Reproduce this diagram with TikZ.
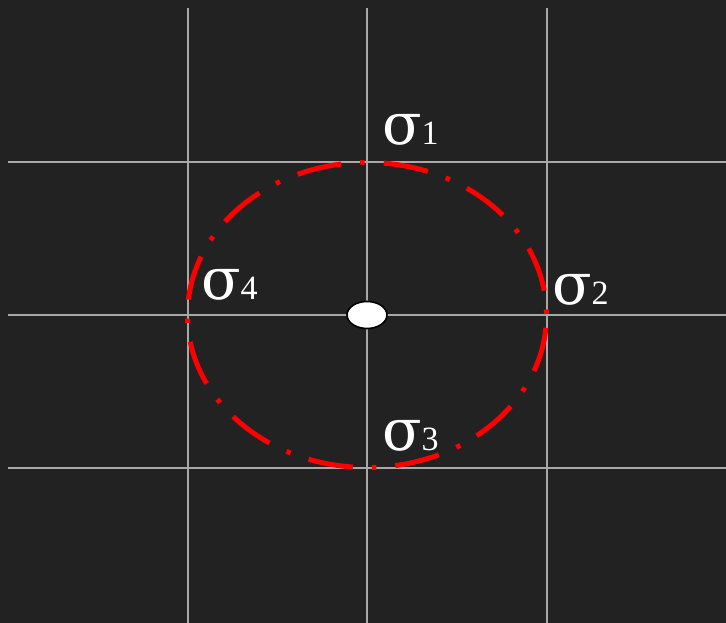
\documentclass[tikz,border=0pt]{standalone}
\usepackage{fontspec}
\newfontfamily\lblfont{Liberation Serif}
\newfontfamily\sigfont{DejaVu Serif}
\definecolor{board}{HTML}{222223}
\definecolor{gridc}{HTML}{A8A8A8}
\definecolor{sred}{HTML}{FF0000}
\tikzset{
  gridline/.style={draw=gridc, line width=1.6pt},
  stressring/.style={draw=sred, line width=5pt, line cap=butt,
    dash pattern=on 45pt off 19pt on 4.5pt off 19pt, dash phase=63pt},
  lbl/.style={anchor=base west, inner sep=0pt, outer sep=0pt, text=white, font=\lblfont},
  hole/.style={ellipse, draw=black, fill=white, line width=1.6pt, minimum width=40pt, minimum height=27pt, inner sep=0pt}
}
\newcommand{\sig}[1]{{\sigfont\fontsize{58}{58}\selectfont σ}{\fontsize{34}{34}\selectfont #1}}
\usetikzlibrary{shapes.geometric}
\begin{document}
\begin{tikzpicture}[x=1pt,y=1pt]
\useasboundingbox (0,0) rectangle (726,623);
\fill[board] (0,0) rectangle (726,623);
% grid
\draw[gridline] (188,615) -- (188,0);
\draw[gridline] (367,615) -- (367,0);
\draw[gridline] (547,615) -- (547,0);
\draw[gridline] (8,461) -- (726,461);
\draw[gridline] (8,308) -- (726,308);
\draw[gridline] (8,155) -- (726,155);
% ring
\draw[stressring] (367,308) ellipse [x radius=179.5pt, y radius=152.5pt];
% centre
\node[hole] (c) at (367,308) {};
% labels
\node[lbl] (s1) at (382,478) {\sig{1}};
\node[lbl] (s2) at (552,318) {\sig{2}};
\node[lbl] (s3) at (382,172) {\sig{3}};
\node[lbl] (s4) at (201,323) {\sig{4}};
\end{tikzpicture}
\end{document}
